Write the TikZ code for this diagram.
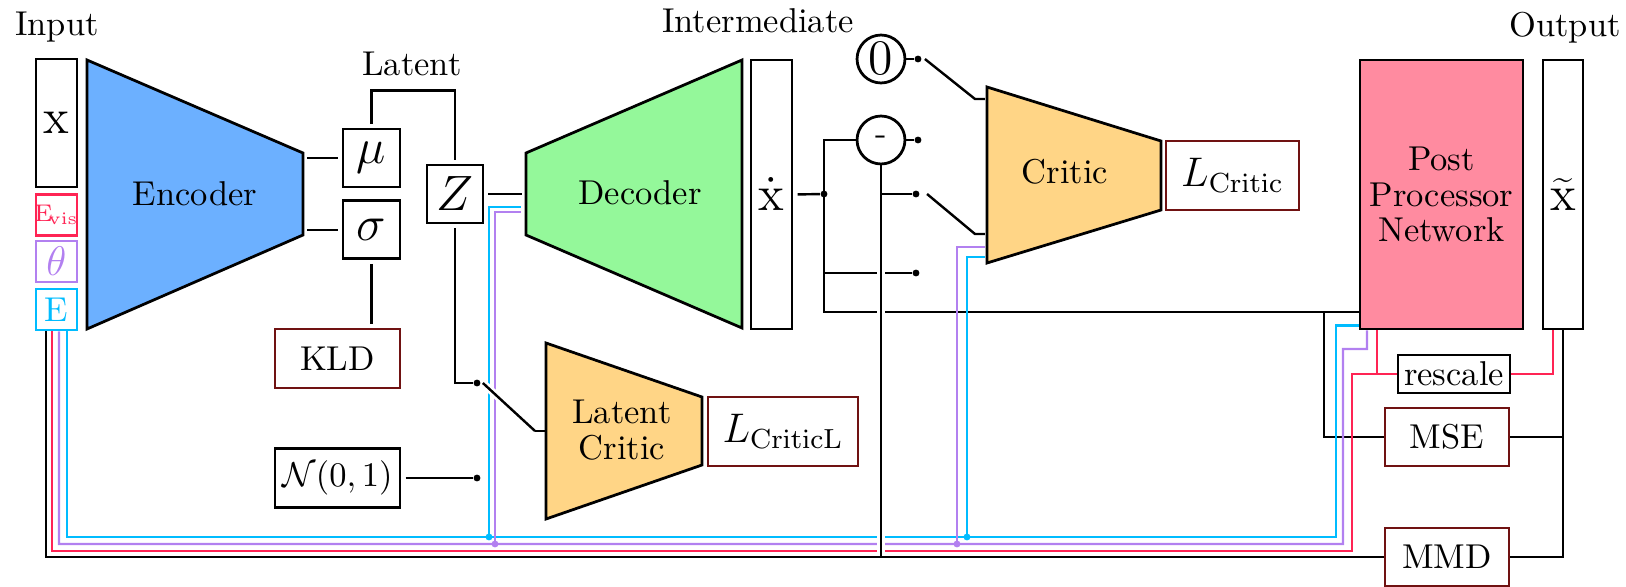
\documentclass[tikz,border=0pt]{standalone}

\definecolor{encblue}{RGB}{108,176,255}
\definecolor{decgreen}{RGB}{148,248,154}
\definecolor{critorange}{RGB}{255,213,134}
\definecolor{pppink}{RGB}{255,139,160}
\definecolor{wred}{RGB}{255,36,84}
\definecolor{wpurple}{RGB}{178,128,240}
\definecolor{wcyan}{RGB}{0,188,255}
\definecolor{lossred}{RGB}{112,18,18}

\tikzset{
  box/.style={draw, line width=0.8pt, inner sep=0pt},
  lossbox/.style={box, draw=lossred},
  net/.style={draw, line width=0.8pt},
  wire/.style={line width=0.7pt},
  spaced/.style={shorten <=1.2pt, shorten >=1.2pt},
  over/.style={preaction={draw=white, line width=2.2pt}},
  tap/.style={circle, fill, inner sep=0pt, minimum size=2pt},
}

\begin{document}
\begin{tikzpicture}[x=0.29pt, y=-0.29pt]
\useasboundingbox (0,0) rectangle (1626,587);

% headings
\node[anchor=base] (hin) at (57,35) {Input};
\node[anchor=base] (hlat) at (412,75) {Latent};
\node[anchor=base] (hmid) at (758,33) {Intermediate};
\node[anchor=base] (hout) at (1565,36) {Output};

% input stack
\node[box, minimum width=11.9pt, minimum height=37.1pt] (xin) at (56.5,123) {\Large$\mathrm{x}$};
\node[box, draw=wred, text=wred, minimum width=11.9pt, minimum height=12.1pt] (evis) at (56.5,215) {\makebox[0pt]{\scriptsize$\mathrm{E}_{\!\mathrm{vis}}$}};
\node[box, draw=wpurple, text=wpurple, minimum width=11.9pt, minimum height=11.9pt] (th) at (56.5,261.5) {\large$\theta$};
\node[box, draw=wcyan, text=wcyan, minimum width=11.9pt, minimum height=11.9pt] (en) at (56.5,309.5) {E};

% encoder
\draw[net, fill=encblue] (87,60) -- (303,153) -- (303,235) -- (87,329) -- cycle;
\node (enc) at (195,194) {Encoder};
\coordinate (encmu) at (303,158);
\coordinate (encsig) at (303,230);

% latent space
\node[box, minimum width=16.5pt, minimum height=16.8pt] (mu) at (371.5,158) {\Large$\mu$};
\node[box, minimum width=16.5pt, minimum height=16.8pt] (sig) at (371.5,229.5) {\Large$\sigma$};
\node[box, minimum width=16.2pt, minimum height=16.8pt] (z) at (455,194) {\Large$Z$};
\node[lossbox, minimum width=36.3pt, minimum height=17.1pt] (kld) at (337.5,358.5) {KLD};
\node[box, minimum width=36.3pt, minimum height=17.1pt] (nrm) at (337.5,478) {$\mathcal{N}(0,1)$};

% decoder
\draw[net, fill=decgreen] (526,153) -- (742,60) -- (742,328) -- (526,235) -- cycle;
\node (dec) at (640,193) {Decoder};
\coordinate (decz) at (526,194);
\coordinate (deccy) at (526,207);
\coordinate (decpu) at (526,212);
\node[box, minimum width=11.9pt, minimum height=78pt] (xd) at (771.5,194.5) {\Large$\dot{\mathrm{x}}$};

% latent critic
\draw[net, fill=critorange] (546,343) -- (702,397) -- (702,465) -- (546,519) -- cycle;
\node[align=center] (lc) at (622,430) {Latent\\[-1.7pt]Critic};
\coordinate (lcin) at (546,431);
\node[lossbox, minimum width=43.5pt, minimum height=20pt] (llc) at (783,431.5) {\large$L_{\mathrm{CriticL}}$};

% critic
\draw[net, fill=critorange] (987,87) -- (1161,141) -- (1161,210) -- (987,263) -- cycle;
\node (cr) at (1065,172) {Critic};
\coordinate (crA) at (987,99);
\coordinate (crB) at (987,234);
\coordinate (crpu) at (987,247);
\coordinate (crcy) at (987,257);
\node[lossbox, minimum width=38.6pt, minimum height=20pt] (lcr) at (1232.5,175.5) {\large$L_{\mathrm{Critic}}$};

% selector in front of the critic
\node[box, circle, minimum size=13.9pt] (zero) at (881,59) {\Large 0};
\node[box, circle, minimum size=13.9pt] (minus) at (881,140) {-};
\node[tap] (s0) at (918,59) {};
\node[tap] (s1) at (918,140) {};
\node[tap] (s2) at (916,194) {};
\node[tap] (s3) at (916,273) {};
\node[tap] (jx) at (824,194) {};
\coordinate (jm) at (824,273);
\coordinate (jb) at (824,312);

% post processing
\node[box, fill=pppink, align=center, minimum width=47.3pt, minimum height=78pt] (pp) at (1441.5,194.5) {Post\\[-1.7pt]Processor\\[-1.7pt]Network};
\node[box, minimum width=11.6pt, minimum height=78pt] (xt) at (1563,194.5) {\Large$\widetilde{\mathrm{x}}$};
\node[box, minimum width=32.5pt, minimum height=11pt] (rsc) at (1454,374) {rescale};
\node[lossbox, minimum width=36pt, minimum height=16.8pt] (mse) at (1447,437) {MSE};
\node[lossbox, minimum width=36pt, minimum height=16.8pt] (mmd) at (1447,557) {MMD};
\coordinate (jp) at (1324,312);

% black wires
\draw[wire, spaced] (encmu) -- (mu.west);
\draw[wire, spaced] (encsig) -- (encsig -| sig.west);
\draw[wire, spaced] (mu.north) -- ++(0,-37) -| (z.north);
\draw[wire, spaced] (sig.south) -- (sig.south |- kld.north);
\draw[wire, spaced] (z.east) -- (decz);
\node[tap] (zl) at (477,383) {};
\node[tap] (nl) at (477,478) {};
\draw[wire, shorten <=1.2pt] (z.south) |- (zl);
\draw[wire, shorten <=1.2pt] (nrm.east) -- (nl);
\draw[wire, shorten <=1.2pt] (xd.east) -- (jx);
\draw[wire] (minus.west) -| (jx.center) -- (jb) -- (jb -| pp.west);
\draw[wire] (jm) -- (s3);
\draw[wire] (zero.east) -- (s0);
\draw[wire] (minus.east) -- (s1);
\draw[wire, shorten >=0.6pt] ([xshift=2pt]s0.center) -- (975,99) -- (crA);
\draw[wire, shorten >=0.6pt] ([xshift=3.2pt]s2.center) -- (975,234) -- (crB);
\draw[wire] (jp) |- (mse.west);
\draw[wire] (xt.south) |- (mmd.east);
\draw[wire] (mse.east) -- (mse.east -| xt.south);

% conditioning wires
\draw[wire, wred] ([xshift=-1.3pt]en.south) |- (1352,551) |- (rsc.west);
\draw[wire, wred] ([xshift=-18.7pt]pp.south) |- (rsc.west);
\draw[wire, wred] (rsc.east) -| ([xshift=-2.9pt]xt.south);
\draw[wire, wpurple] ([xshift=0.73pt]en.south) |- (1343,544) |- (1367,349) -- ([xshift=-21.6pt]pp.south);
\draw[wire, wcyan] ([xshift=3.05pt]en.south) |- (1336,537) |- ([yshift=1.45pt]pp.south west);
\node[tap, wcyan] (cyd) at (489,537) {};
\node[tap, wcyan] (cyc) at (967,537) {};
\node[tap, wpurple] (pud) at (495,544) {};
\node[tap, wpurple] (puc) at (957,544) {};
\draw[wire, wcyan, shorten >=1.5pt] (cyd.center) |- (deccy);
\draw[wire, wpurple, shorten >=1.5pt] (pud.center) |- (decpu);
\draw[wire, wcyan, shorten >=0.6pt] (cyc.center) |- (crcy);
\draw[wire, wpurple, shorten >=0.6pt] (puc.center) |- (crpu);

% wires crossing on top
\draw[wire, over] ([xshift=1.7pt]zl.center) -- (535,431);
\draw[wire] (535,431) -- (lcin);
\draw[wire] (minus.south) -- (minus.south |- s2);
\draw[wire, over] (minus.south |- s2) -- (minus.south |- mmd.west);
\draw[wire] (minus.south |- s2) -- (s2);
\draw[wire] ([xshift=-3.05pt]en.south) |- (mmd.west);
\end{tikzpicture}
\end{document}
